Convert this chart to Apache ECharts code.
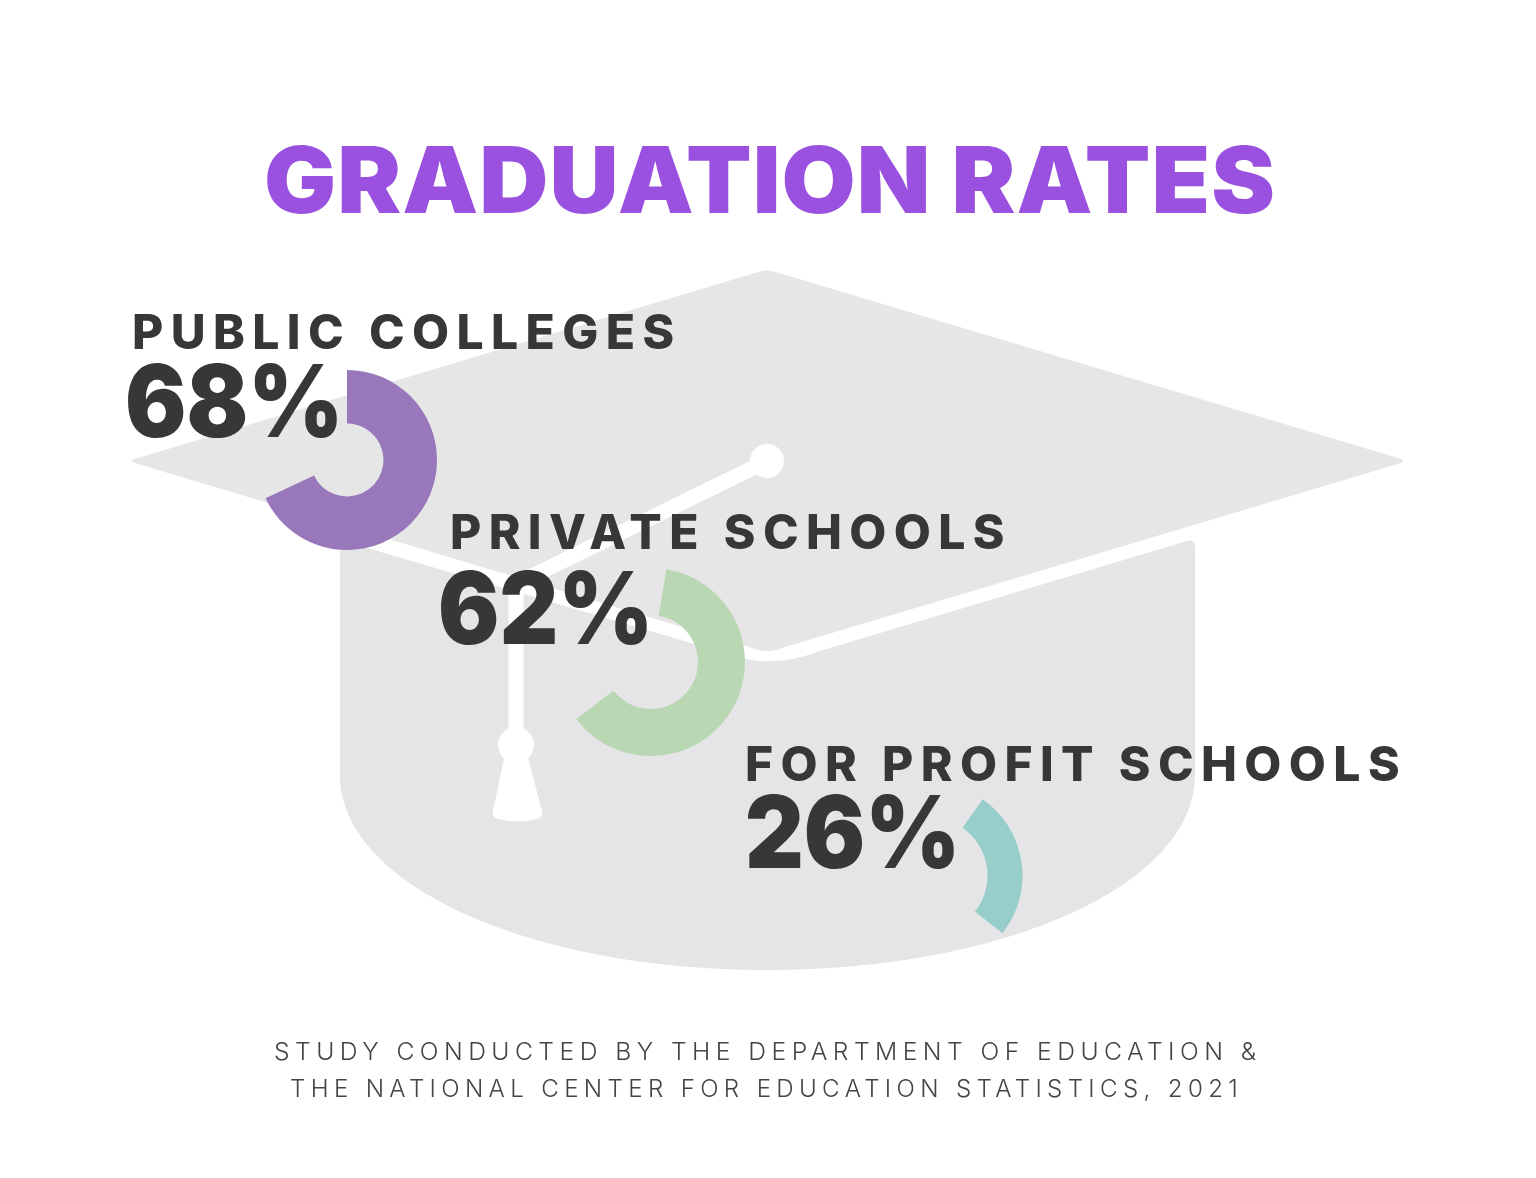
<!DOCTYPE html>
<html>
<head>
<meta charset="utf-8">
<title>Graduation Rates</title>
<script src="https://cdn.jsdelivr.net/npm/echarts@6/dist/echarts.min.js"></script>
<style>
  html, body { margin: 0; padding: 0; background: #fff; }
  #chart { width: 1536px; height: 1178px; }
</style>
</head>
<body>
<div id="chart"></div>
<script>
const titleText = 'GRADUATION RATES';
const categories = ['PUBLIC COLLEGES', 'PRIVATE SCHOOLS', 'FOR PROFIT SCHOOLS'];
const rates = [68, 62, 26];
const footerLines = [
    'STUDY CONDUCTED BY THE DEPARTMENT OF EDUCATION &',
    'THE NATIONAL CENTER FOR EDUCATION STATISTICS, 2021'
];

// ring placement, one per category
const ringCenters = [[347, 460], [651, 662], [929.5, 875.5]];
const ringRadii = [[36.5, 90], [47, 94], [58, 93]];
const ringStarts = [90, 80.6, 55.2];
const ringColors = ['#9878bb', '#bad7b3', '#97ceca'];

// text placement
const labelPos = [[132, 335], [450, 535], [745, 767]];
const percentPos = [[125, 407], [438, 614], [745, 838]];
const DARK = '#373737';
const FONT = 'Inter, "Noto Sans", sans-serif';

// zrender has no letter spacing, so set it from the font size before each draw
const tracking = { 92: 1, 48: 7.4, 24: 5.3 };
const nativeFillText = CanvasRenderingContext2D.prototype.fillText;
CanvasRenderingContext2D.prototype.fillText = function () {
    const size = parseFloat((this.font.match(/([\d.]+)px/) || [])[1]);
    this.letterSpacing = (tracking[size] || 0) + 'px';
    return nativeFillText.apply(this, arguments);
};

function textEl(text, x, y, size, weight, fill, stretch) {
    return {
        type: 'text',
        z: 10,
        silent: true,
        x: x,
        y: y,
        scaleX: stretch || 1,
        style: {
            text: text,
            fontFamily: FONT,
            fontSize: size,
            fontWeight: weight,
            fill: fill,
            align: 'left',
            verticalAlign: 'middle'
        }
    };
}

// the grey cap behind the rings
function renderCap() {
    const grey = { fill: '#e6e6e6' };
    const white = { fill: '#fff' };
    return {
        type: 'group',
        children: [
            {
                type: 'path',
                shape: { pathData: 'M340 540 L715 650 Q767 672 820 651 L1187 541 Q1195 539 1195 547 L1195 775 C1195 885 1005 970 767 970 C530 970 340 885 340 775 Z' },
                style: { fill: '#e5e5e8' }
            },
            {
                type: 'path',
                shape: { pathData: 'M755 273 Q767 268 779 273 L1398 458 Q1408 461 1398 464 L785 647 Q767 655 749 647 L138 464 Q126 461 138 458 Z' },
                style: grey
            },
            { type: 'circle', shape: { cx: 767, cy: 461, r: 17 }, style: white },
            {
                type: 'polyline',
                shape: { points: [[767, 461], [516, 584], [516, 735]] },
                style: { fill: null, stroke: '#fff', lineWidth: 15 }
            },
            { type: 'circle', shape: { cx: 516, cy: 745, r: 18 }, style: white },
            {
                type: 'path',
                shape: { pathData: 'M504 758 L528 758 L542 811 Q544 817 537 819 Q517 824 498 819 Q491 817 493 811 Z' },
                style: white
            }
        ]
    };
}

const chart = echarts.init(document.getElementById('chart'), null, { renderer: 'canvas' });

const ringSeries = categories.map(function (name, i) {
    return {
        type: 'pie',
        name: name,
        silent: true,
        z: 2,
        center: ringCenters[i],
        radius: ringRadii[i],
        startAngle: ringStarts[i],
        clockwise: true,
        label: { show: false },
        labelLine: { show: false },
        data: [
            { name: name, value: rates[i], itemStyle: { color: ringColors[i] } },
            { name: 'rest', value: 100 - rates[i], itemStyle: { color: 'transparent' } }
        ]
    };
});

const option = {
    backgroundColor: '#fff',
    animation: false,
    tooltip: { show: false },
    graphic: {
        elements: [
            textEl(titleText, 264, 185, 92, 900, '#9b51e0', 1.04),
            ...categories.map((c, i) => textEl(c, labelPos[i][0], labelPos[i][1], 48, 800, DARK)),
            ...rates.map((r, i) => textEl(r + '%', percentPos[i][0], percentPos[i][1], 100, 900, DARK, 0.91)),
            ...footerLines.map((line, i) => textEl(line, i ? 290 : 274, i ? 1090 : 1053, 24, 300, '#444', i ? 1.006 : 1.028))
        ]
    },
    series: [
        { type: 'custom', coordinateSystem: 'none', silent: true, z: 0, clip: false, data: [[0]], renderItem: renderCap },
        ...ringSeries
    ]
};

chart.setOption(option);
window.addEventListener('resize', () => chart.resize());
</script>
</body>
</html>
